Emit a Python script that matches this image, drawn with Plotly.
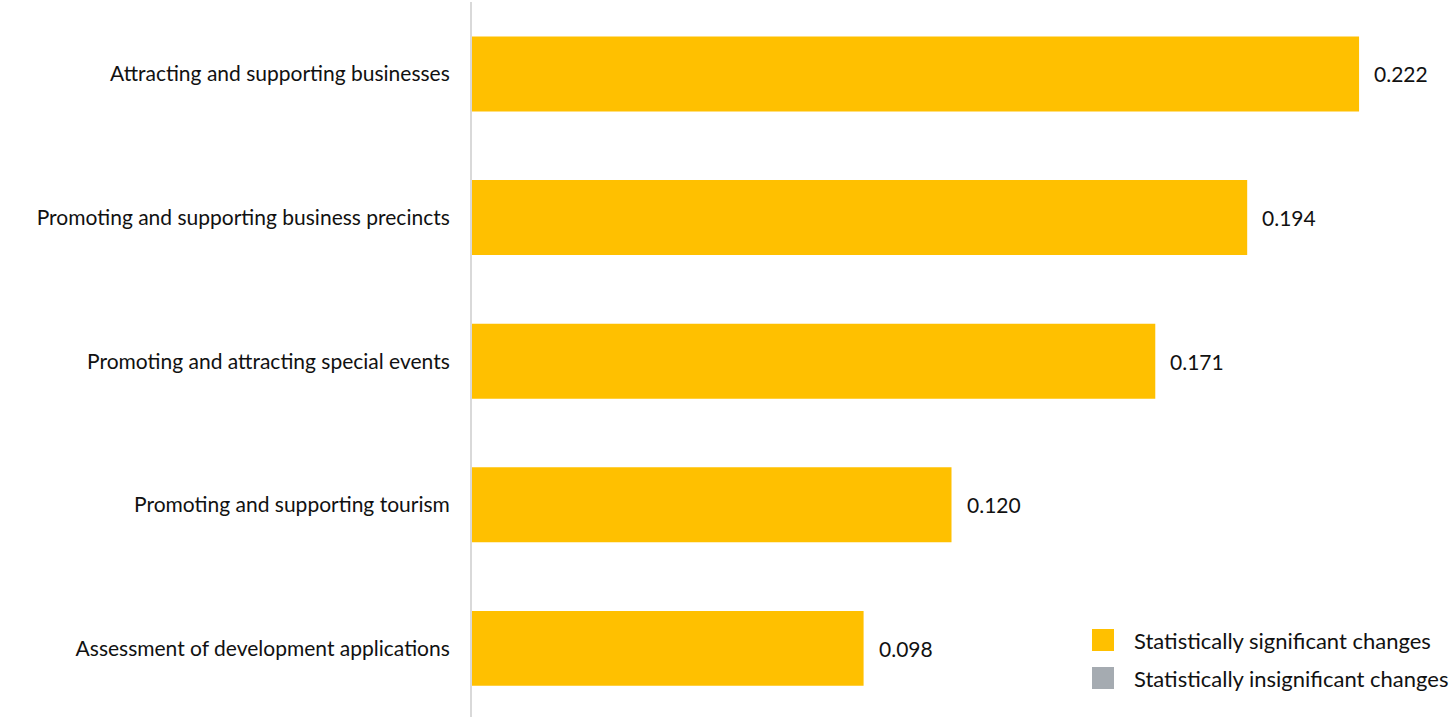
import plotly.graph_objects as go

# Service areas and their estimated change values
categories = [
    "Attracting and supporting businesses",
    "Promoting and supporting business precincts",
    "Promoting and attracting special events",
    "Promoting and supporting tourism",
    "Assessment of development applications",
]
values = [0.222, 0.194, 0.171, 0.120, 0.098]
value_labels = ["0.222", "0.194", "0.171", "0.120", "0.098"]

legend_labels = ["Statistically significant changes", "Statistically insignificant changes"]
SIG_COLOR = "#FFC000"
INSIG_COLOR = "#A5ABB1"
FONT = "Lato"
TEXT_COLOR = "#111111"
FS = 21

fig = go.Figure()
fig.add_trace(go.Bar(
    y=categories,
    x=values,
    orientation="h",
    marker=dict(color=SIG_COLOR, line=dict(width=0)),
    hoverinfo="x+y",
    showlegend=False,
))

# value labels to the right of each bar
for cat, val, lab in zip(categories, values, value_labels):
    fig.add_annotation(
        x=val, y=cat, text=lab, showarrow=False,
        xanchor="left", yanchor="middle", xshift=13,
        font=dict(family=FONT, size=FS, color=TEXT_COLOR),
    )

# custom legend in the lower-right corner
legend_rows = [(legend_labels[0], SIG_COLOR, 640), (legend_labels[1], INSIG_COLOR, 678)]
W, H = 1455, 717
L, R, T, B = 472, 30, 2, 0
pw, ph = W - L - R, H - T - B
for text, color, ypx in legend_rows:
    x0 = (1092 - L) / pw
    x1 = (1114 - L) / pw
    y0 = 1 - (ypx - 11 - T) / ph
    y1 = 1 - (ypx + 11 - T) / ph
    fig.add_shape(type="rect", xref="paper", yref="paper",
                  x0=x0, x1=x1, y0=y1, y1=y0,
                  fillcolor=color, line=dict(width=0))
    fig.add_annotation(xref="paper", yref="paper",
                       x=(1132 - L) / pw, y=1 - (ypx - T) / ph,
                       text=text, showarrow=False,
                       xanchor="left", yanchor="middle",
                       font=dict(family=FONT, size=22, color=TEXT_COLOR))

fig.update_layout(
    width=W, height=H,
    margin=dict(l=L, r=R, t=T, b=B),
    paper_bgcolor="white",
    plot_bgcolor="white",
    bargap=0.478,
    font=dict(family=FONT, size=FS, color=TEXT_COLOR),
    xaxis=dict(range=[0, 0.2385], visible=False, fixedrange=True),
    yaxis=dict(
        range=[4.478, -0.501],
        showline=True, linecolor="#D9D9D9", linewidth=2,
        showgrid=False, zeroline=False,
        ticks="", ticklabelstandoff=16,
        tickfont=dict(family=FONT, size=FS, color=TEXT_COLOR),
    ),
)

fig.write_html("out.html")
